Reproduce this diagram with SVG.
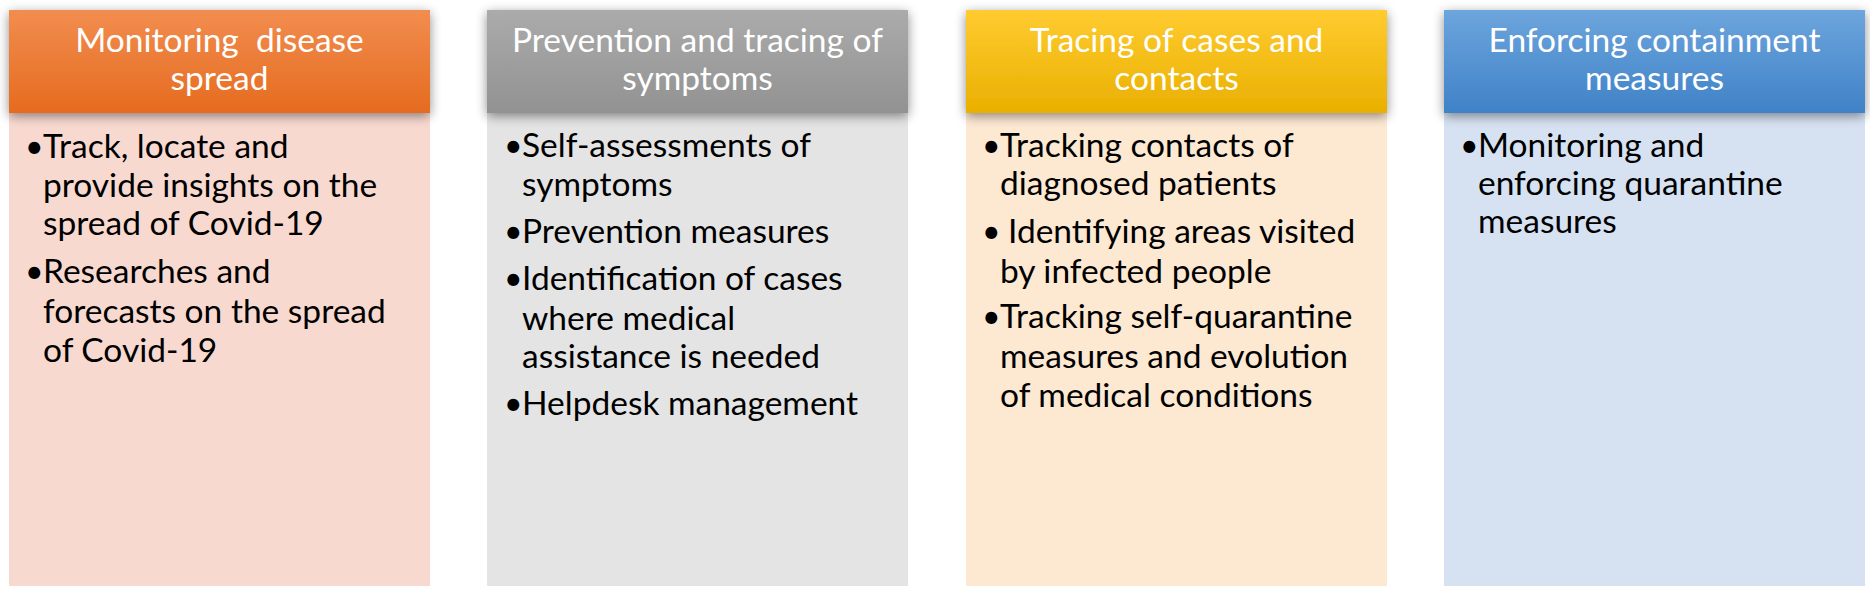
<svg xmlns="http://www.w3.org/2000/svg" width="1870" height="594" viewBox="0 0 1870 594">
<defs>
<linearGradient id="gOr" x1="0" y1="0" x2="0" y2="1"><stop offset="0" stop-color="#F28D4F"/><stop offset="1" stop-color="#E56B1F"/></linearGradient>
<linearGradient id="gGy" x1="0" y1="0" x2="0" y2="1"><stop offset="0" stop-color="#ABABAB"/><stop offset="1" stop-color="#929292"/></linearGradient>
<linearGradient id="gYe" x1="0" y1="0" x2="0" y2="1"><stop offset="0" stop-color="#FFCB30"/><stop offset="1" stop-color="#E9B000"/></linearGradient>
<linearGradient id="gBl" x1="0" y1="0" x2="0" y2="1"><stop offset="0" stop-color="#6DA5DD"/><stop offset="1" stop-color="#3F82C7"/></linearGradient>
<filter id="sh" x="-10%" y="-30%" width="120%" height="160%"><feGaussianBlur in="SourceAlpha" stdDeviation="6"/><feOffset dy="3"/><feComponentTransfer><feFuncA type="linear" slope="0.45"/></feComponentTransfer><feMerge><feMergeNode/><feMergeNode in="SourceGraphic"/></feMerge></filter>
</defs>
<style>
.hd{font-family:Lato,"Liberation Sans",sans-serif;font-size:33.5px;fill:#FFFFFF;text-anchor:middle;white-space:pre}
.bd{font-family:Lato,"Liberation Sans",sans-serif;font-size:33.5px;fill:#000000}
.bu{font-family:Lato,"Liberation Sans",sans-serif;font-size:32px;fill:#000000}
</style>
<rect width="1870" height="594" fill="#FFFFFF"/>
<g id="col1">
<rect x="9" y="113" width="421" height="473" fill="#F8D9D0"/>
<rect x="9" y="10" width="421" height="103" fill="url(#gOr)" filter="url(#sh)"/>
<text class="hd" x="219.5" y="52">Monitoring  disease</text>
<text class="hd" x="219.5" y="90">spread</text>
<text class="bu" x="25" y="158">•</text>
<text class="bd" x="43" y="158">Track, locate and</text>
<text class="bd" x="43" y="197">provide insights on the</text>
<text class="bd" x="43" y="235">spread of Covid-19</text>
<text class="bu" x="25" y="283">•</text>
<text class="bd" x="43" y="283">Researches and</text>
<text class="bd" x="43" y="323">forecasts on the spread</text>
<text class="bd" x="43" y="362">of Covid-19</text>
</g>
<g id="col2">
<rect x="487" y="113" width="421" height="473" fill="#E4E4E4"/>
<rect x="487" y="10" width="421" height="103" fill="url(#gGy)" filter="url(#sh)"/>
<text class="hd" x="697.5" y="52">Prevention and tracing of</text>
<text class="hd" x="697.5" y="90">symptoms</text>
<text class="bu" x="504" y="157">•</text>
<text class="bd" x="522" y="157">Self-assessments of</text>
<text class="bd" x="522" y="196">symptoms</text>
<text class="bu" x="504" y="243">•</text>
<text class="bd" x="522" y="243">Prevention measures</text>
<text class="bu" x="504" y="290">•</text>
<text class="bd" x="522" y="290">Identification of cases</text>
<text class="bd" x="522" y="330">where medical</text>
<text class="bd" x="522" y="368">assistance is needed</text>
<text class="bu" x="504" y="415">•</text>
<text class="bd" x="522" y="415">Helpdesk management</text>
</g>
<g id="col3">
<rect x="966" y="113" width="421" height="473" fill="#FDE8D2"/>
<rect x="966" y="10" width="421" height="103" fill="url(#gYe)" filter="url(#sh)"/>
<text class="hd" x="1176.5" y="52">Tracing of cases and</text>
<text class="hd" x="1176.5" y="90">contacts</text>
<text class="bu" x="982" y="157">•</text>
<text class="bd" x="1000" y="157">Tracking contacts of</text>
<text class="bd" x="1000" y="195">diagnosed patients</text>
<text class="bu" x="982" y="243">•</text>
<text class="bd" x="1008" y="243">Identifying areas visited</text>
<text class="bd" x="1000" y="283">by infected people</text>
<text class="bu" x="982" y="328">•</text>
<text class="bd" x="1000" y="328">Tracking self-quarantine</text>
<text class="bd" x="1000" y="368">measures and evolution</text>
<text class="bd" x="1000" y="407">of medical conditions</text>
</g>
<g id="col4">
<rect x="1444" y="113" width="421" height="473" fill="#D6E2F2"/>
<rect x="1444" y="10" width="421" height="103" fill="url(#gBl)" filter="url(#sh)"/>
<text class="hd" x="1654.5" y="52">Enforcing containment</text>
<text class="hd" x="1654.5" y="90">measures</text>
<text class="bu" x="1460" y="157">•</text>
<text class="bd" x="1478" y="157">Monitoring and</text>
<text class="bd" x="1478" y="195">enforcing quarantine</text>
<text class="bd" x="1478" y="233">measures</text>
</g>
<g id="connectors"/>
</svg>
